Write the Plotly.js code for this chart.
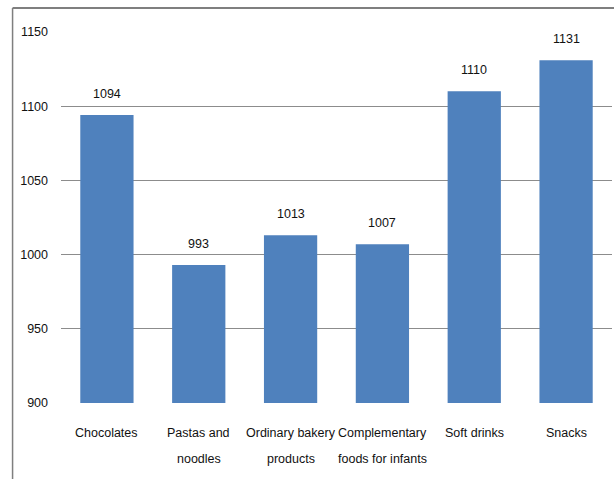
<!DOCTYPE html>
<html>
<head>
<meta charset="utf-8">
<script src="https://cdn.plot.ly/plotly-3.0.1.min.js"></script>
<style>html,body{margin:0;padding:0;background:#fff;}#chart{width:614px;height:479px;}</style>
</head>
<body>
<div id="chart"></div>
<script>
var categories = ["Chocolates", "Pastas and noodles", "Ordinary bakery products", "Complementary foods for infants", "Soft drinks", "Snacks"];
var values = [1094, 993, 1013, 1007, 1110, 1131];
var labelLine1 = ["Chocolates", "Pastas and", "Ordinary bakery", "Complementary", "Soft drinks", "Snacks"];
var labelLine2 = ["", "noodles", "products", "foods for infants", "", ""];
var yTicks = [900, 950, 1000, 1050, 1100, 1150];

var FONT = "'Liberation Sans', Arial, sans-serif";
var FS = 12.5;
var TXT = '#111111';

var annotations = [];
categories.forEach(function (c, i) {
  annotations.push({x: c, y: values[i], xref: 'x', yref: 'y', text: String(values[i]),
    showarrow: false, yanchor: 'bottom', yshift: 12, font: {family: FONT, size: FS, color: TXT}});
  annotations.push({x: c, y: -0.081, xref: 'x', yref: 'paper', text: labelLine1[i],
    showarrow: false, yanchor: 'middle', font: {family: FONT, size: FS, color: TXT}});
  if (labelLine2[i]) {
    annotations.push({x: c, y: -0.151, xref: 'x', yref: 'paper', text: labelLine2[i],
      showarrow: false, yanchor: 'middle', font: {family: FONT, size: FS, color: TXT}});
  }
});

var trace = {
  type: 'bar',
  x: categories,
  y: values,
  marker: {color: '#4F81BD'},
  hoverinfo: 'x+y'
};

var layout = {
  width: 614,
  height: 479,
  margin: {l: 60.5, r: 1.5, t: 32, b: 76},
  paper_bgcolor: '#fff',
  plot_bgcolor: '#fff',
  showlegend: false,
  bargap: 0.42,
  font: {family: FONT, size: FS, color: TXT},
  xaxis: {showticklabels: false, showgrid: false, zeroline: false, showline: false, ticks: '', fixedrange: true},
  yaxis: {range: [900, 1150], tickvals: yTicks, ticktext: yTicks.map(String),
    showgrid: true, gridcolor: '#8c8c8c', gridwidth: 1, zeroline: false, showline: false,
    ticks: '', ticklabelstandoff: 12, tickfont: {family: FONT, size: FS, color: TXT}},
  annotations: annotations,
  shapes: [
    {type: 'line', xref: 'paper', yref: 'paper', x0: -0.0879, x1: 1.01, y0: 1.0647, y1: 1.0647,
      line: {color: '#7f7f7f', width: 2}},
    {type: 'line', xref: 'paper', yref: 'paper', x0: -0.0879, x1: -0.0879, y0: 1.0647, y1: -0.3,
      line: {color: '#7f7f7f', width: 1.5}}
  ]
};

Plotly.newPlot('chart', [trace], layout, {displayModeBar: false, staticPlot: true});
</script>
</body>
</html>
